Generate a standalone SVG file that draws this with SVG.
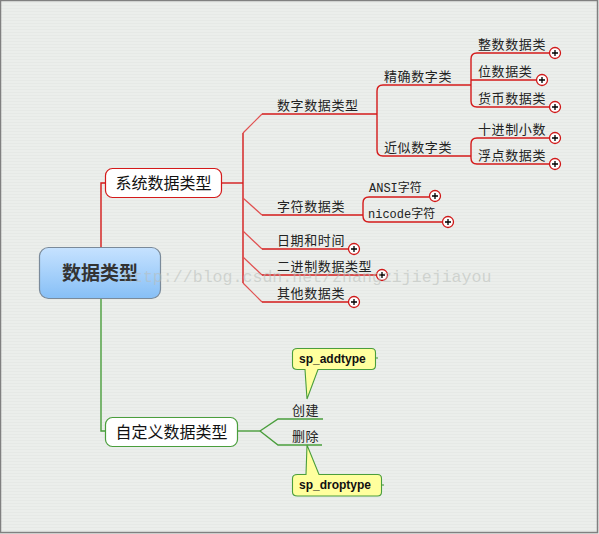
<svg xmlns="http://www.w3.org/2000/svg" width="599" height="534" viewBox="0 0 599 534">
<defs>
<pattern id="bg" width="4" height="3" patternUnits="userSpaceOnUse">
<rect width="4" height="3" fill="#ebeeeb"/>
<rect y="2" width="4" height="1" fill="#e6e9e6"/>
</pattern>
<linearGradient id="rootg" x1="0" y1="0" x2="0" y2="1">
<stop offset="0" stop-color="#c6e2ff"/>
<stop offset="1" stop-color="#86bff6"/>
</linearGradient>
<g id="plus">
<circle r="5.5" fill="#ffffff" stroke="#d01818" stroke-width="1.3"/>
<path d="M-3 0H3M0 -3V3" stroke="#000" stroke-width="1.3"/>
</g>
</defs>
<style>
.red{fill:none;stroke:#d41a1a;stroke-width:1.4}
.redl{fill:none;stroke:#e05050;stroke-width:1.2}
.grn{fill:none;stroke:#4a9e3c;stroke-width:1.4}
.sub{font-family:"Noto Sans CJK SC","Liberation Sans",sans-serif;font-size:13px;fill:#222;letter-spacing:0.6px}
.mono{font-family:"Liberation Mono","Noto Sans CJK SC",monospace;font-size:12px;fill:#222}
.mid{font-family:"Noto Sans CJK SC",sans-serif;font-size:16px;fill:#111}
.call{font-family:"Liberation Sans",Arial,sans-serif;font-size:12px;font-weight:bold;fill:#111}
</style>
<rect width="599" height="534" fill="url(#bg)"/>
<rect x="0.5" y="0.5" width="597" height="532" fill="none" stroke="#808080" stroke-width="1.5"/>

<g id="connectors">
<path class="red" d="M101 248V183H105"/>
<path class="grn" d="M101 299V431H105"/>
<path class="red" d="M222 183H243"/>
<path class="red" d="M243 133V283"/>
<path class="redl" d="M243 133L262 114"/>
<path class="red" d="M262 114H377"/>
<path class="red" d="M383 85Q377 85 377 91V150Q377 156 383 156"/>
<path class="red" d="M383 85H471"/>
<path class="red" d="M383 156H471"/>
<path class="red" d="M477 53Q471 53 471 59V101Q471 107 477 107"/>
<path class="red" d="M477 53H549"/>
<path class="red" d="M471 80H536"/>
<path class="red" d="M477 107H549"/>
<path class="red" d="M477 138Q471 138 471 144V158Q471 164 477 164"/>
<path class="red" d="M477 138H549"/>
<path class="red" d="M477 164H549"/>
<path class="redl" d="M243 198L262 215"/>
<path class="red" d="M262 215H363"/>
<path class="red" d="M369 197Q363 197 363 203V216Q363 222 369 222"/>
<path class="red" d="M369 197H429"/>
<path class="red" d="M369 222H442"/>
<path class="redl" d="M243 231L262 249"/>
<path class="red" d="M262 249H348"/>
<path class="redl" d="M243 257L262 275"/>
<path class="red" d="M262 275H376"/>
<path class="redl" d="M243 283L262 302"/>
<path class="red" d="M262 302H348"/>
<path class="grn" d="M238 431H252"/>
<path class="grn" d="M252 431H260" stroke-width="2.4"/>
<path class="grn" d="M260 431L278 419H323"/>
<path class="grn" d="M260 431L278 445H322"/>
</g>

<g id="root">
<rect x="39.5" y="247.5" width="121" height="51" rx="9" fill="url(#rootg)" stroke="#7a8a9a" stroke-width="1.2"/>
<text x="100" y="280" text-anchor="middle" font-family="Noto Sans CJK SC,sans-serif" font-size="19" font-weight="bold" fill="#333">数据类型</text>
</g>

<g id="sys">
<rect x="105.5" y="168.5" width="116" height="29" rx="7" fill="#fff" stroke="#d41a1a" stroke-width="1.2"/>
<text class="mid" x="163.5" y="189" text-anchor="middle">系统数据类型</text>
</g>

<g id="custom">
<rect x="105.5" y="417.5" width="132" height="29" rx="7" fill="#fff" stroke="#4a9e3c" stroke-width="1.2"/>
<text class="mid" x="171.5" y="438" text-anchor="middle">自定义数据类型</text>
</g>

<g id="num"><text class="sub" x="277" y="110">数字数据类型</text></g>
<g id="exact"><text class="sub" x="384" y="81">精确数字类</text></g>
<g id="approx"><text class="sub" x="384" y="152">近似数字类</text></g>
<g id="int"><text class="sub" x="478" y="49">整数数据类</text><use href="#plus" x="555" y="53"/></g>
<g id="bit"><text class="sub" x="478" y="76">位数据类</text><use href="#plus" x="542" y="80"/></g>
<g id="money"><text class="sub" x="478" y="103">货币数据类</text><use href="#plus" x="555" y="107"/></g>
<g id="dec"><text class="sub" x="478" y="134">十进制小数</text><use href="#plus" x="555" y="138"/></g>
<g id="float"><text class="sub" x="478" y="160">浮点数据类</text><use href="#plus" x="555" y="164"/></g>
<g id="char"><text class="sub" x="277" y="211">字符数据类</text></g>
<g id="ansi"><text class="mono" x="369" y="192">ANSI字符</text><use href="#plus" x="435" y="196"/></g>
<g id="unicode"><text class="mono" x="368" y="218">nicode字符</text><use href="#plus" x="448" y="222"/></g>
<g id="date"><text class="sub" x="277" y="245">日期和时间</text><use href="#plus" x="354" y="249"/></g>
<g id="binary"><text class="sub" x="277" y="271">二进制数据类型</text><use href="#plus" x="382" y="275"/></g>
<g id="other"><text class="sub" x="277" y="298">其他数据类</text><use href="#plus" x="354" y="302"/></g>

<g id="create"><text class="sub" x="292" y="415">创建</text></g>
<g id="delete"><text class="sub" x="292" y="441">删除</text></g>

<g id="addtype">
<path d="M297.5 348.5H371.5Q375.5 348.5 375.5 352.5V365.5Q375.5 369.5 371.5 369.5H318L307 399L305 369.5H297.5Q292.5 369.5 292.5 365.5V352.5Q292.5 348.5 297.5 348.5Z" fill="#ffff9e" stroke="#4a9e3c" stroke-width="1.1"/>
<path d="M375.5 358H378" stroke="#4a9e3c" stroke-width="1.1"/>
<text class="call" x="299" y="363">sp_addtype</text>
</g>
<g id="droptype">
<path d="M297.5 474.5H306L307 445L319 474.5H377.5Q381.5 474.5 381.5 478.5V492Q381.5 496 377.5 496H297.5Q292.5 496 292.5 492V478.5Q292.5 474.5 297.5 474.5Z" fill="#ffff9e" stroke="#4a9e3c" stroke-width="1.1"/>
<path d="M381.5 485H384" stroke="#4a9e3c" stroke-width="1.1"/>
<text class="call" x="299" y="489">sp_droptype</text>
</g>

<text x="123" y="282" font-family="Liberation Mono,monospace" font-size="16.6" fill="#b8bcb8" fill-opacity="0.55">http://blog.csdn.net/zhangzijiejiayou</text>
</svg>
